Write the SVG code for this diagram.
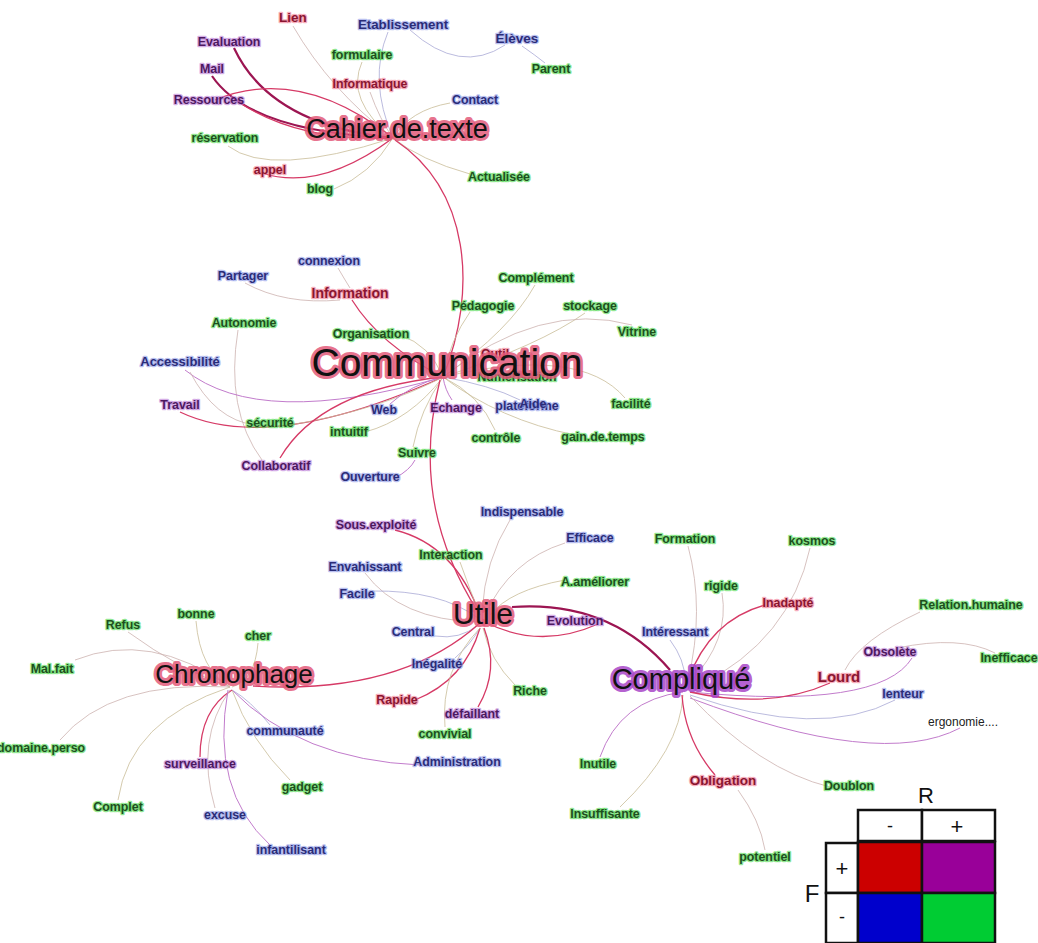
<svg xmlns="http://www.w3.org/2000/svg" width="1038" height="943" viewBox="0 0 1038 943">
<style>
.lbl{font-family:"Liberation Sans",Arial,sans-serif;font-size:12.4px;font-weight:bold;text-anchor:middle;paint-order:stroke;stroke-width:2.6px;stroke-linejoin:round;stroke-opacity:0.6}
.r{fill:#8a1530;stroke:#f07890}
.b{fill:#2a2c78;stroke:#8c98e6}
.g{fill:#1d4f1d;stroke:#48d848}
.p{fill:#4c1860;stroke:#b978d6}
.k{fill:#222;stroke:none;font-weight:normal}
.hub{font-family:"Liberation Sans",Arial,sans-serif;text-anchor:middle;fill:#111;paint-order:stroke;stroke:#e35a7a;stroke-width:6px;stroke-linejoin:round;stroke-opacity:0.85}
.hubp{stroke:#a846c8}
.e{fill:none;stroke:#cdb2b0;stroke-width:0.8}
.et{fill:none;stroke:#c9bd98;stroke-width:0.8}
.eb{fill:none;stroke:#a9a9d6;stroke-width:0.8}
.ep{fill:none;stroke:#c27ccc;stroke-width:1}
.er{fill:none;stroke:#d63a66;stroke-width:1.3}
.ed{fill:none;stroke:#9c1552;stroke-width:2.2}
.lg{font-family:"Liberation Sans",Arial,sans-serif;text-anchor:middle;fill:#111}
.cell{stroke:#111;stroke-width:2.5;fill:#fff}
</style>
<rect width="1038" height="943" fill="#fff"/>
<g id="connectors">
<!-- Cahier cluster -->
<path class="e" d="M293,26 Q330,90 393,138" stroke="#e6a8b8"/>
<path class="eb" d="M388,32 Q368,80 393,138"/>
<path class="et" d="M362,62 Q345,100 393,138"/>
<path class="e" d="M370,92 Q380,120 393,138"/>
<path class="eb" d="M410,30 Q460,75 505,45"/>
<path class="eb" d="M522,46 Q535,55 545,63"/>
<path class="ed" d="M234,48 Q270,125 393,138"/>
<path class="ed" d="M212,76 Q250,132 393,138" stroke="#a41a5a"/>
<path class="er" d="M240,103 Q300,142 393,138" stroke="#c02060"/>
<path class="er" d="M215,100 Q300,65 393,138" stroke="#c04070" stroke-width="1"/>
<path class="et" d="M450,103 Q410,110 393,138"/>
<path class="et" d="M228,146 Q270,178 393,138"/>
<path class="er" d="M262,173 Q320,192 393,138"/>
<path class="et" d="M334,189 Q370,175 393,138" stroke="#a89070"/>
<path class="et" d="M470,174 Q420,160 393,138"/>
<path class="er" d="M395,140 C470,190 478,290 443,377"/>
<!-- Communication cluster -->
<path class="e" d="M338,268 Q345,280 350,288"/>
<path class="e" d="M245,283 Q285,305 340,300" stroke="#e0b0bc"/>
<path class="er" d="M352,300 Q380,345 443,377"/>
<path class="e" d="M238,330 Q225,410 262,460"/>
<path class="ep" d="M185,370 Q260,430 443,377" stroke-width="0.8"/>
<path class="e" d="M190,372 Q215,420 255,425"/>
<path class="er" d="M180,412 Q270,455 443,377" stroke-width="1"/>
<path class="et" d="M290,425 Q380,410 443,377"/>
<path class="ep" d="M390,404 Q410,385 443,377" stroke-width="0.8"/>
<path class="et" d="M365,432 Q410,420 443,377"/>
<path class="er" d="M280,458 Q320,390 443,377"/>
<path class="et" d="M413,447 Q420,410 443,377"/>
<path class="ep" d="M395,478 Q410,470 415,460" stroke-width="0.8"/>
<path class="et" d="M400,335 Q430,345 443,377"/>
<path class="et" d="M470,312 Q450,340 443,377"/>
<path class="et" d="M535,285 Q510,330 443,377"/>
<path class="et" d="M585,313 Q540,345 443,377"/>
<path class="e" d="M632,325 Q540,300 443,377"/>
<path class="et" d="M625,398 Q580,345 443,377"/>
<path class="ep" d="M452,400 Q445,390 443,377" stroke-width="0.8"/>
<path class="eb" d="M520,400 Q490,385 443,377"/>
<path class="et" d="M495,430 Q480,395 443,377"/>
<path class="et" d="M575,435 Q500,420 443,377"/>
<path class="er" d="M440,380 C425,440 420,520 478,612"/>
<!-- Utile cluster -->
<path class="er" d="M395,530 Q455,545 480,615" stroke="#c03070" stroke-width="1.1"/>
<path class="et" d="M460,562 Q470,590 480,615"/>
<path class="e" d="M510,520 Q485,560 482,612"/>
<path class="e" d="M565,543 Q510,560 485,615"/>
<path class="et" d="M565,580 Q510,590 490,615"/>
<path class="e" d="M365,573 Q400,620 478,622"/>
<path class="eb" d="M372,591 Q440,590 478,618"/>
<path class="eb" d="M435,636 Q460,640 478,625"/>
<path class="eb" d="M455,658 Q470,645 480,628"/>
<path class="et" d="M515,685 Q490,660 483,628"/>
<path class="er" d="M415,700 Q465,680 480,628" stroke-width="1"/>
<path class="er" d="M478,707 Q500,670 484,628" stroke="#c04090" stroke-width="1"/>
<path class="et" d="M445,727 Q440,670 480,628"/>
<path class="er" d="M485,622 Q540,650 598,624" stroke="#c03080" stroke-width="1"/>
<path class="ed" d="M512,607 Q610,600 670,670" stroke-width="1.5"/>
<path class="er" d="M480,623 Q400,695 253,686"/>
<!-- Chronophage cluster -->
<path class="e" d="M128,632 Q180,670 230,687"/>
<path class="et" d="M196,621 Q200,670 230,687"/>
<path class="et" d="M258,643 Q255,680 232,687"/>
<path class="e" d="M75,660 Q150,630 230,687"/>
<path class="e" d="M60,740 Q110,680 230,687"/>
<path class="et" d="M118,800 Q130,720 230,687"/>
<path class="eb" d="M270,725 Q250,700 232,690"/>
<path class="ep" d="M420,765 Q300,760 232,690" stroke-width="0.8"/>
<path class="et" d="M290,780 Q250,740 232,690"/>
<path class="er" d="M200,757 Q200,710 232,690" stroke-width="1.1"/>
<path class="e" d="M215,808 Q195,740 230,690"/>
<path class="ep" d="M270,845 Q210,790 228,690" stroke-width="0.8"/>
<!-- Complique cluster -->
<path class="e" d="M688,546 Q705,610 688,680"/>
<path class="e" d="M722,593 Q730,640 690,682"/>
<path class="e" d="M810,548 Q790,640 700,685"/>
<path class="er" d="M765,605 Q710,620 688,680" stroke-width="1"/>
<path class="eb" d="M670,640 Q685,660 685,680"/>
<path class="e" d="M920,612 Q860,640 845,670"/>
<path class="e" d="M897,648 Q960,635 995,653"/>
<path class="ep" d="M912,658 Q880,710 690,692"/>
<path class="er" d="M830,683 Q770,710 690,692"/>
<path class="eb" d="M895,700 Q820,740 690,695" stroke="#7070d0" stroke-width="1"/>
<path class="ep" d="M960,728 Q880,770 690,698" stroke-width="1.2"/>
<path class="ep" d="M600,757 Q620,700 683,692" stroke-width="0.7"/>
<path class="et" d="M620,807 Q680,750 683,695"/>
<path class="er" d="M715,775 Q685,740 682,695" stroke-width="1"/>
<path class="e" d="M738,790 Q760,820 765,850"/>
<path class="e" d="M830,787 Q760,770 690,696" stroke="#b8b8b8"/>
</g>
<g id="labels-cahier">
<g id="n-lien"><text class="lbl r" x="293" y="22" style="font-size:13.5px">Lien</text></g>
<g id="n-etablissement"><text class="lbl b" x="403" y="29" style="font-size:13.3px">Etablissement</text></g>
<g id="n-evaluation"><text class="lbl p" x="229" y="46">Evaluation</text></g>
<g id="n-eleves"><text class="lbl b" x="517" y="43" style="font-size:13.5px">Élèves</text></g>
<g id="n-formulaire"><text class="lbl g" x="362" y="59">formulaire</text></g>
<g id="n-mail"><text class="lbl p" x="212" y="73">Mail</text></g>
<g id="n-parent"><text class="lbl g" x="551" y="73">Parent</text></g>
<g id="n-informatique"><text class="lbl r" x="370" y="88">Informatique</text></g>
<g id="n-ressources"><text class="lbl p" x="209" y="104">Ressources</text></g>
<g id="n-contact"><text class="lbl b" x="475" y="104">Contact</text></g>
<g id="n-reservation"><text class="lbl g" x="225" y="142">réservation</text></g>
<g id="n-appel"><text class="lbl r" x="270" y="174">appel</text></g>
<g id="n-blog"><text class="lbl g" x="320" y="193">blog</text></g>
<g id="n-actualisee"><text class="lbl g" x="499" y="181">Actualisée</text></g>
</g>
<g id="labels-communication">
<g id="n-connexion"><text class="lbl b" x="329" y="265">connexion</text></g>
<g id="n-partager"><text class="lbl b" x="243" y="280">Partager</text></g>
<g id="n-information"><text class="lbl r" x="350" y="298" style="font-size:14px">Information</text></g>
<g id="n-complement"><text class="lbl g" x="536" y="282">Complément</text></g>
<g id="n-pedagogie"><text class="lbl g" x="483" y="310">Pédagogie</text></g>
<g id="n-stockage"><text class="lbl g" x="590" y="310">stockage</text></g>
<g id="n-autonomie"><text class="lbl g" x="244" y="327">Autonomie</text></g>
<g id="n-organisation"><text class="lbl g" x="371" y="338">Organisation</text></g>
<g id="n-vitrine"><text class="lbl g" x="637" y="336">Vitrine</text></g>
<g id="n-accessibilite"><text class="lbl b" x="180" y="366" style="font-size:13px">Accessibilité</text></g>
<g id="n-outil"><text class="lbl r" x="495" y="358">Outil</text></g>
<g id="n-numerisation"><text class="lbl g" x="517" y="381">Numérisation</text></g>
<g id="n-travail"><text class="lbl p" x="180" y="409">Travail</text></g>
<g id="n-web"><text class="lbl b" x="384" y="414">Web</text></g>
<g id="n-echange"><text class="lbl p" x="456" y="412">Echange</text></g>
<g id="n-plateforme"><text class="lbl b" x="527" y="410">plateforme</text></g>
<g id="n-aide"><text class="lbl b" x="533" y="408">Aide</text></g>
<g id="n-facilite"><text class="lbl g" x="631" y="408">facilité</text></g>
<g id="n-securite"><text class="lbl g" x="270" y="427">sécurité</text></g>
<g id="n-intuitif"><text class="lbl g" x="349" y="436">intuitif</text></g>
<g id="n-controle"><text class="lbl g" x="496" y="442">contrôle</text></g>
<g id="n-gain"><text class="lbl g" x="603" y="441">gain.de.temps</text></g>
<g id="n-suivre"><text class="lbl g" x="417" y="457">Suivre</text></g>
<g id="n-collaboratif"><text class="lbl p" x="276" y="470">Collaboratif</text></g>
<g id="n-ouverture"><text class="lbl b" x="370" y="481">Ouverture</text></g>
</g>
<g id="labels-utile">
<g id="n-indispensable"><text class="lbl b" x="522" y="516">Indispensable</text></g>
<g id="n-sousexploite"><text class="lbl p" x="376" y="529">Sous.exploité</text></g>
<g id="n-efficace"><text class="lbl b" x="590" y="542">Efficace</text></g>
<g id="n-interaction"><text class="lbl g" x="451" y="559">Interaction</text></g>
<g id="n-envahissant"><text class="lbl b" x="365" y="571">Envahissant</text></g>
<g id="n-aameliorer"><text class="lbl g" x="595" y="586">A.améliorer</text></g>
<g id="n-facile"><text class="lbl b" x="357" y="598">Facile</text></g>
<g id="n-evolution"><text class="lbl p" x="575" y="625">Evolution</text></g>
<g id="n-central"><text class="lbl b" x="413" y="636">Central</text></g>
<g id="n-inegalite"><text class="lbl b" x="437" y="668">Inégalité</text></g>
<g id="n-riche"><text class="lbl g" x="530" y="695">Riche</text></g>
<g id="n-rapide"><text class="lbl r" x="397" y="704">Rapide</text></g>
<g id="n-defaillant"><text class="lbl p" x="472" y="718">défaillant</text></g>
<g id="n-convivial"><text class="lbl g" x="445" y="738">convivial</text></g>
</g>
<g id="labels-chronophage">
<g id="n-bonne"><text class="lbl g" x="196" y="618">bonne</text></g>
<g id="n-refus"><text class="lbl g" x="123" y="629">Refus</text></g>
<g id="n-cher"><text class="lbl g" x="258" y="640">cher</text></g>
<g id="n-malfait"><text class="lbl g" x="52" y="673">Mal.fait</text></g>
<g id="n-communaute"><text class="lbl b" x="285" y="735">communauté</text></g>
<g id="n-domaine"><text class="lbl g" x="-3" y="752" style="text-anchor:start">domaine.perso</text></g>
<g id="n-surveillance"><text class="lbl p" x="200" y="768">surveillance</text></g>
<g id="n-administration"><text class="lbl b" x="457" y="766">Administration</text></g>
<g id="n-gadget"><text class="lbl g" x="302" y="791">gadget</text></g>
<g id="n-complet"><text class="lbl g" x="118" y="811">Complet</text></g>
<g id="n-excuse"><text class="lbl b" x="225" y="819">excuse</text></g>
<g id="n-infantilisant"><text class="lbl b" x="291" y="854">infantilisant</text></g>
</g>
<g id="labels-complique">
<g id="n-formation"><text class="lbl g" x="685" y="543">Formation</text></g>
<g id="n-kosmos"><text class="lbl g" x="812" y="545">kosmos</text></g>
<g id="n-rigide"><text class="lbl g" x="721" y="590">rigide</text></g>
<g id="n-inadapte"><text class="lbl r" x="788" y="607">Inadapté</text></g>
<g id="n-relation"><text class="lbl g" x="971" y="609">Relation.humaine</text></g>
<g id="n-interessant"><text class="lbl b" x="675" y="636">Intéressant</text></g>
<g id="n-obsolete"><text class="lbl p" x="890" y="656">Obsolète</text></g>
<g id="n-inefficace"><text class="lbl g" x="1009" y="662">Inefficace</text></g>
<g id="n-lourd"><text class="lbl r" x="839" y="682" style="font-size:15px">Lourd</text></g>
<g id="n-lenteur"><text class="lbl b" x="903" y="698">lenteur</text></g>
<g id="n-ergonomie"><text class="lbl k" x="963" y="726" style="font-size:12px">ergonomie....</text></g>
<g id="n-inutile"><text class="lbl g" x="598" y="768">Inutile</text></g>
<g id="n-obligation"><text class="lbl r" x="723" y="785" style="font-size:13.5px">Obligation</text></g>
<g id="n-doublon"><text class="lbl g" x="849" y="790">Doublon</text></g>
<g id="n-insuffisante"><text class="lbl g" x="605" y="818">Insuffisante</text></g>
<g id="n-potentiel"><text class="lbl g" x="765" y="861">potentiel</text></g>
</g>
<g id="n-cahier"><text class="hub" x="397" y="138" font-size="27">Cahier.de.texte</text></g>
<g id="n-communication"><text class="hub" x="447" y="376" font-size="39">Communication</text></g>
<g id="n-utile"><text class="hub" x="483" y="624" font-size="30">Utile</text></g>
<g id="n-chronophage"><text class="hub" x="234" y="683" font-size="26">Chronophage</text></g>
<g id="n-complique"><text class="hub hubp" x="681" y="689" font-size="29">Compliqué</text></g>
<g id="legend">
<text class="lg" x="926" y="803" font-size="22">R</text>
<text class="lg" x="812" y="902" font-size="24">F</text>
<rect x="858" y="810" width="64" height="31" class="cell"/>
<rect x="922" y="810" width="73" height="31" class="cell"/>
<rect x="826" y="843" width="32" height="50" class="cell"/>
<rect x="826" y="893" width="32" height="50" class="cell"/>
<rect x="858" y="842" width="64" height="51" fill="#cc0000" stroke="#111" stroke-width="2.5"/>
<rect x="922" y="842" width="73" height="51" fill="#990099" stroke="#111" stroke-width="2.5"/>
<rect x="858" y="893" width="64" height="50" fill="#0000cc" stroke="#111" stroke-width="2.5"/>
<rect x="922" y="893" width="73" height="50" fill="#00cc33" stroke="#111" stroke-width="2.5"/>
<text class="lg" x="890" y="832" font-size="18">-</text>
<text class="lg" x="957" y="834" font-size="22">+</text>
<text class="lg" x="842" y="876" font-size="22">+</text>
<text class="lg" x="842" y="923" font-size="18">-</text>
</g>
</svg>
